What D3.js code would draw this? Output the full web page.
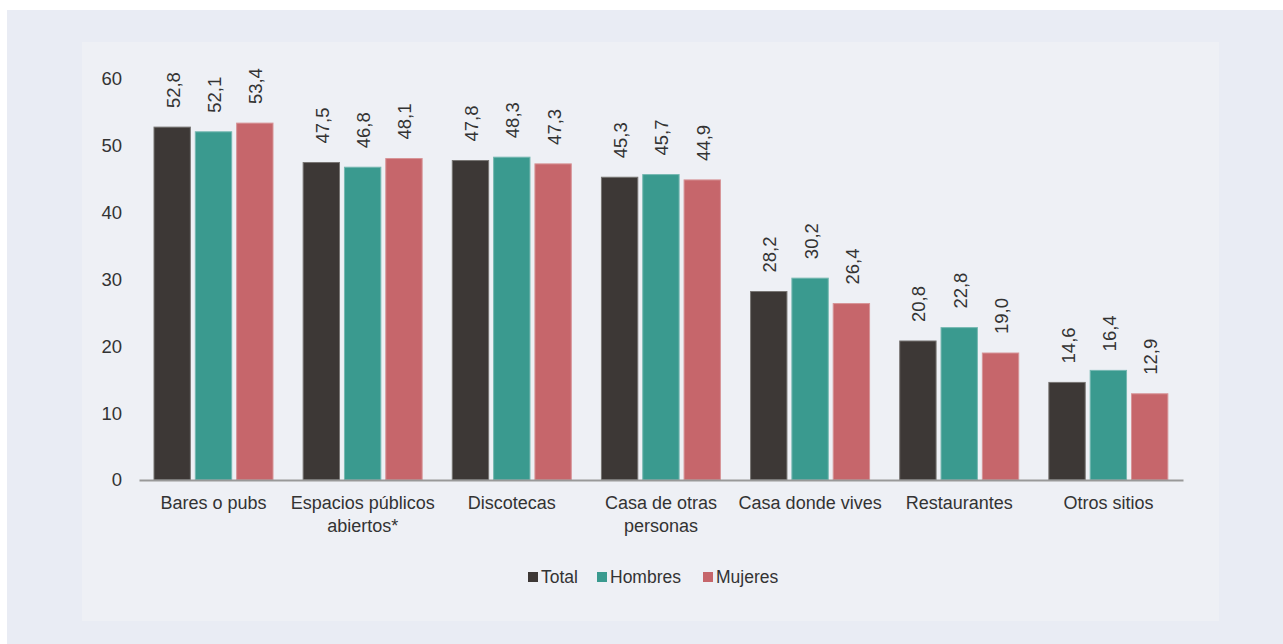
<!DOCTYPE html>
<html><head><meta charset="utf-8">
<script src="https://cdn.jsdelivr.net/npm/d3@7"></script>
<style>
html,body{margin:0;padding:0;background:#fff;}
svg{display:block;font-family:"Liberation Sans",Arial,sans-serif;}
</style></head>
<body>
<script>
const categories = [["Bares o pubs"],["Espacios públicos","abiertos*"],["Discotecas"],["Casa de otras","personas"],["Casa donde vives"],["Restaurantes"],["Otros sitios"]];
const seriesNames = ["Total","Hombres","Mujeres"];
const totalValues = [52.8,47.5,47.8,45.3,28.2,20.8,14.6];
const hombresValues = [52.1,46.8,48.3,45.7,30.2,22.8,16.4];
const mujeresValues = [53.4,48.1,47.3,44.9,26.4,19.0,12.9];
const yTicks = [0,10,20,30,40,50,60];
const colors = ["#3d3836","#3a9a8f","#c6666b"];

const W=1283,H=644;
const svg=d3.select("body").append("svg").attr("width",W).attr("height",H);
svg.append("rect").attr("x",7).attr("y",10).attr("width",W-7).attr("height",H-10).attr("fill","#e9ecf4");
svg.append("rect").attr("x",82).attr("y",42).attr("width",1137).attr("height",579).attr("fill","#eef0f5");

const series=[totalValues,hombresValues,mujeresValues];
const idx=d3.range(categories.length);
const x=d3.scaleBand().domain(idx).range([139,1183]).padding(0);
const xs=d3.scaleBand().domain(d3.range(3)).range([15,134]).paddingInner(0.12);
const y=d3.scaleLinear().domain([0,60]).range([480,79]);
const fmt=v=>d3.format(".1f")(v).replace(".",",");

// y tick labels
const ya=svg.append("g").attr("transform","translate(122,0)")
  .call(d3.axisLeft(y).tickValues(yTicks).tickSize(0).tickPadding(0));
ya.select(".domain").remove();
ya.selectAll("text").attr("font-size",18.5).attr("fill","#333").attr("font-family","Liberation Sans, Arial, sans-serif");

const g=svg.append("g");
series.forEach((vals,si)=>{
  const stroke=d3.interpolateRgb(colors[si],"#ffffff")(0.3);
  g.selectAll(".b"+si).data(idx).enter().append("rect")
    .attr("x",i=>x(i)+xs(si)).attr("width",xs.bandwidth())
    .attr("y",i=>y(vals[i])).attr("height",i=>y(0)-y(vals[i]))
    .attr("fill",colors[si]).attr("stroke",stroke).attr("stroke-width",1);
  g.selectAll(".l"+si).data(idx).enter().append("text")
    .attr("transform",i=>`translate(${x(i)+xs(si)+xs.bandwidth()/2+1},${y(vals[i])-19}) rotate(-90)`)
    .attr("dominant-baseline","central").attr("text-anchor","start")
    .attr("font-size",18.5).attr("fill","#333").text(i=>fmt(vals[i]));
});

// x axis
const xa=svg.append("g").attr("transform","translate(0,480)")
  .call(d3.axisBottom(x).tickSize(0).tickFormat(""));
xa.select(".domain").attr("stroke","#999").attr("stroke-width",2.2);
categories.forEach((lines,i)=>{
  const t=svg.append("text").attr("x",x(i)+x.bandwidth()/2).attr("y",509)
    .attr("text-anchor","middle").attr("font-size",18).attr("fill","#333");
  lines.forEach((ln,k)=>t.append("tspan").attr("x",x(i)+x.bandwidth()/2).attr("dy",k?23:0).text(ln));
});

// legend
const legX=[528,597,703];
seriesNames.forEach((n,i)=>{
  svg.append("rect").attr("x",legX[i]).attr("y",572).attr("width",10).attr("height",10).attr("fill",colors[i]);
  svg.append("text").attr("x",legX[i]+13).attr("y",583).attr("font-size",17.5).attr("fill","#333").text(n);
});
</script>
</body></html>
